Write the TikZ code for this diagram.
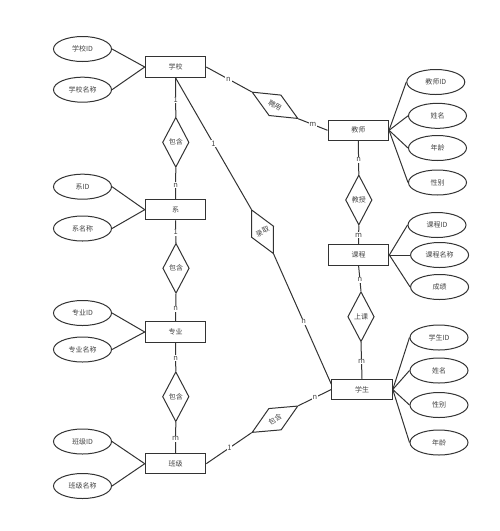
\documentclass[tikz,border=0pt]{standalone}
\usepackage{fontspec}
\newfontfamily\cjk{Noto Sans CJK SC}
\usetikzlibrary{shapes.geometric}
\definecolor{ln}{RGB}{51,51,51}
\definecolor{tx}{RGB}{68,68,68}
\begin{document}
\begin{tikzpicture}[x=1pt,y=-1pt,
  every node/.style={font=\cjk\fontsize{7}{8}\selectfont, text=tx},
  ent/.style={draw=ln, line width=1pt, rectangle, minimum width=60.5pt, minimum height=20.5pt, inner sep=0pt},
  attr/.style={draw=ln, line width=1pt, ellipse, minimum width=58pt, minimum height=25pt, inner sep=0pt},
  rel/.style={draw=ln, line width=1pt, diamond, minimum width=26.5pt, minimum height=50pt, inner sep=0pt},
  conn/.style={draw=ln, line width=1pt},
  card/.style={fill=white, inner sep=0.8pt, font=\cjk\fontsize{7.5}{8}\selectfont, text=tx}
]
\useasboundingbox (0,0) rectangle (500,531);

% entities
\node[ent] (school) at (175.5,67) {学校};
\node[ent] (dept) at (175.5,209.7) {系};
\node[ent] (major) at (175.5,332) {专业};
\node[ent] (cls) at (175.5,463.7) {班级};
\node[ent] (teacher) at (358.3,130.3) {教师};
\node[ent] (course) at (358.6,255) {课程};
\node[ent] (student) at (362,389.5) {学生};

% left attributes
\node[attr] (sid) at (82.5,49) {学校ID};
\node[attr] (sname) at (82.5,89.7) {学校名称};
\node[attr] (did) at (82.5,186.7) {系ID};
\node[attr] (dname) at (82.5,228.5) {系名称};
\node[attr] (mid) at (82.5,313) {专业ID};
\node[attr] (mname) at (82.5,349.5) {专业名称};
\node[attr] (cid) at (82.5,441.5) {班级ID};
\node[attr] (cname) at (82.5,486) {班级名称};

% right attributes
\node[attr] (tid) at (435.8,82) {教师ID};
\node[attr] (tname) at (437.5,115.8) {姓名};
\node[attr] (tage) at (437.5,148) {年龄};
\node[attr] (tsex) at (437.5,182.5) {性别};
\node[attr] (coid) at (437,225) {课程ID};
\node[attr] (coname) at (439.6,255) {课程名称};
\node[attr] (score) at (439.6,287) {成绩};
\node[attr] (stid) at (439,337.5) {学生ID};
\node[attr] (stname) at (439,370.5) {姓名};
\node[attr] (stsex) at (439,405) {性别};
\node[attr] (stage) at (439,442.5) {年龄};

% relationships
\node[rel] (r1) at (175.8,142.3) {包含};
\node[rel] (r2) at (176,268.3) {包含};
\node[rel] (r3) at (175.8,396.7) {包含};
\node[rel, minimum width=53pt, minimum height=25pt, rotate=30] (r4) at (275,419.2) {包含};
\node[rel, minimum width=53pt, minimum height=24pt, rotate=-30] (hire) at (275,105.3) {聘用};
\node[rel, minimum width=25pt, minimum height=49pt, rotate=26.5] (admit) at (262.5,231.7) {录取};
\node[rel] (teach) at (358.8,200) {教授};
\node[rel] (attend) at (361,316.7) {上课};

% attribute connectors
\foreach \a/\e in {sid/school,sname/school,did/dept,dname/dept,mid/major,mname/major,cid/cls,cname/cls}
  \draw[conn] (\a.east) -- (\e.west);
\foreach \a/\e in {tid/teacher,tname/teacher,tage/teacher,tsex/teacher,coid/course,coname/course,score/course,stid/student,stname/student,stsex/student,stage/student}
  \draw[conn] (\e.east) -- (\a.west);

% relationship connectors
\draw[conn] (school.south) -- node[card, pos=0.57] {1} (r1.north);
\draw[conn] (r1.south) -- node[card, pos=0.55] {n} (dept.north);
\draw[conn] (dept.south) -- node[card, pos=0.52] {1} (r2.north);
\draw[conn] (r2.south) -- node[card, pos=0.54] {n} (major.north);
\draw[conn] (major.south) -- node[card, pos=0.54] {n} (r3.north);
\draw[conn] (r3.south) -- node[card, pos=0.54] {m} (cls.north);
\draw[conn] (cls.east) -- node[card, pos=0.51] {1} (r4.west);
\draw[conn] (r4.east) -- node[card, pos=0.5] {n} (student.west);
\draw[conn] (school.east) -- node[card, pos=0.49] {n} (hire.west);
\draw[conn] (hire.east) -- node[card, pos=0.5] {m} (teacher.west);
\draw[conn] (teacher.south) -- node[card, pos=0.56] {n} (teach.north);
\draw[conn] (teach.south) -- node[card, pos=0.51] {m} (course.north);
\draw[conn] (course.south) -- node[card, pos=0.55] {n} (attend.north);
\draw[conn] (attend.south) -- node[card, pos=0.53] {m} (student.north);
\draw[conn] (school.south) -- node[card, pos=0.5] {1} (admit.north);
\draw[conn] (admit.south) -- node[card, pos=0.52] {n} (student.170);
\end{tikzpicture}
\end{document}
